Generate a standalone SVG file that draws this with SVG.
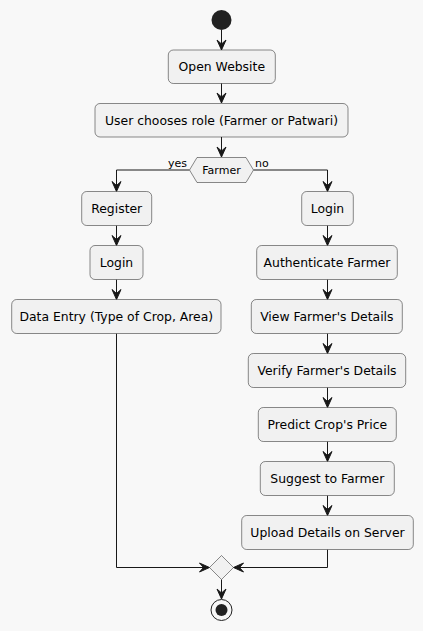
<svg xmlns="http://www.w3.org/2000/svg" width="423" height="631" viewBox="0 0 423 631">
<defs>
<style>
.box{fill:#F1F1F1;stroke:#181818;stroke-width:0.5}
.t{font-family:"DejaVu Sans",sans-serif;font-size:12.4px;fill:#000;text-anchor:middle}
.s{font-family:"DejaVu Sans",sans-serif;font-size:11px;fill:#000}
.ln{fill:none;stroke:#181818;stroke-width:1}
</style>
<marker id="arr" viewBox="0 0 12 12" refX="11" refY="6" markerWidth="12" markerHeight="12" markerUnits="userSpaceOnUse" orient="auto">
<polygon points="1,1.5 11,6 1,10.5 5,6" fill="#181818" stroke="#181818" stroke-width="1" stroke-linejoin="miter"/>
</marker>
</defs>
<rect width="423" height="631" fill="#F8F8F8"/>
<g id="connectors">
<line class="ln" x1="221.5" y1="30" x2="221.5" y2="50" marker-end="url(#arr)"/>
<line class="ln" x1="221.5" y1="83" x2="221.5" y2="103" marker-end="url(#arr)"/>
<line class="ln" x1="221.5" y1="137" x2="221.5" y2="157" marker-end="url(#arr)"/>
<polyline class="ln" points="189.5,170 116.5,170 116.5,191.5" marker-end="url(#arr)"/>
<polyline class="ln" points="253.5,170 327.5,170 327.5,191.5" marker-end="url(#arr)"/>
<line class="ln" x1="116.5" y1="225.5" x2="116.5" y2="245.5" marker-end="url(#arr)"/>
<line class="ln" x1="116.5" y1="279.5" x2="116.5" y2="299.5" marker-end="url(#arr)"/>
<line class="ln" x1="327.5" y1="225.5" x2="327.5" y2="245.5" marker-end="url(#arr)"/>
<line class="ln" x1="327.5" y1="279.5" x2="327.5" y2="299.5" marker-end="url(#arr)"/>
<line class="ln" x1="327.5" y1="333.5" x2="327.5" y2="353.5" marker-end="url(#arr)"/>
<line class="ln" x1="327.5" y1="387.5" x2="327.5" y2="407.5" marker-end="url(#arr)"/>
<line class="ln" x1="327.5" y1="441.5" x2="327.5" y2="461.5" marker-end="url(#arr)"/>
<line class="ln" x1="327.5" y1="495.5" x2="327.5" y2="515.5" marker-end="url(#arr)"/>
<polyline class="ln" points="116.5,333.5 116.5,567.5 209.5,567.5" marker-end="url(#arr)"/>
<polyline class="ln" points="327.5,549.5 327.5,567.5 233.5,567.5" marker-end="url(#arr)"/>
<line class="ln" x1="221.5" y1="579.5" x2="221.5" y2="599" marker-end="url(#arr)"/>
<text class="s" x="168" y="167">yes</text>
<text class="s" x="255" y="167">no</text>
</g>
<g id="start"><circle cx="221.5" cy="20" r="10" fill="#222222"/></g>
<g id="open"><rect class="box" x="168.3" y="50" width="107" height="33.5" rx="5"/><text class="t" x="221.8" y="71">Open Website</text></g>
<g id="role"><rect class="box" x="95" y="103.5" width="253" height="33.5" rx="5"/><text class="t" x="221.5" y="124.5">User chooses role (Farmer or Patwari)</text></g>
<g id="decision"><polygon points="189.5,170 197,157.5 246,157.5 253.5,170 246,182.5 197,182.5" fill="#F1F1F1" stroke="#181818" stroke-width="0.5"/><text class="s" x="221.5" y="174" text-anchor="middle">Farmer</text></g>
<g id="register"><rect class="box" x="81.7" y="191.5" width="70" height="34" rx="5"/><text class="t" x="116.7" y="212.5">Register</text></g>
<g id="login1"><rect class="box" x="90" y="245.5" width="53" height="34" rx="5"/><text class="t" x="116.5" y="266.5">Login</text></g>
<g id="dataentry"><rect class="box" x="11.7" y="299.5" width="209.3" height="34" rx="5"/><text class="t" x="116.3" y="320.5">Data Entry (Type of Crop, Area)</text></g>
<g id="login2"><rect class="box" x="301.7" y="191.5" width="51.6" height="34" rx="5"/><text class="t" x="327.5" y="212.5">Login</text></g>
<g id="auth"><rect class="box" x="256.7" y="245.5" width="140.6" height="34" rx="5"/><text class="t" x="327" y="266.5">Authenticate Farmer</text></g>
<g id="view"><rect class="box" x="251.3" y="299.5" width="151" height="34" rx="5"/><text class="t" x="326.8" y="320.5">View Farmer's Details</text></g>
<g id="verify"><rect class="box" x="248.3" y="353.5" width="157.4" height="34" rx="5"/><text class="t" x="327" y="374.5">Verify Farmer's Details</text></g>
<g id="predict"><rect class="box" x="258.3" y="407.5" width="138" height="34" rx="5"/><text class="t" x="327.3" y="428.5">Predict Crop's Price</text></g>
<g id="suggest"><rect class="box" x="260.3" y="461.5" width="134" height="34" rx="5"/><text class="t" x="327.3" y="482.5">Suggest to Farmer</text></g>
<g id="upload"><rect class="box" x="241.7" y="515.5" width="171.6" height="34" rx="5"/><text class="t" x="327.5" y="536.5">Upload Details on Server</text></g>
<g id="merge"><polygon points="221.5,555.5 233.5,567.5 221.5,579.5 209.5,567.5" fill="#F1F1F1" stroke="#181818" stroke-width="0.5"/></g>
<g id="end"><circle cx="221.5" cy="610" r="10.5" fill="none" stroke="#222222" stroke-width="1"/><circle cx="221.5" cy="610" r="6" fill="#222222"/></g>
</svg>
